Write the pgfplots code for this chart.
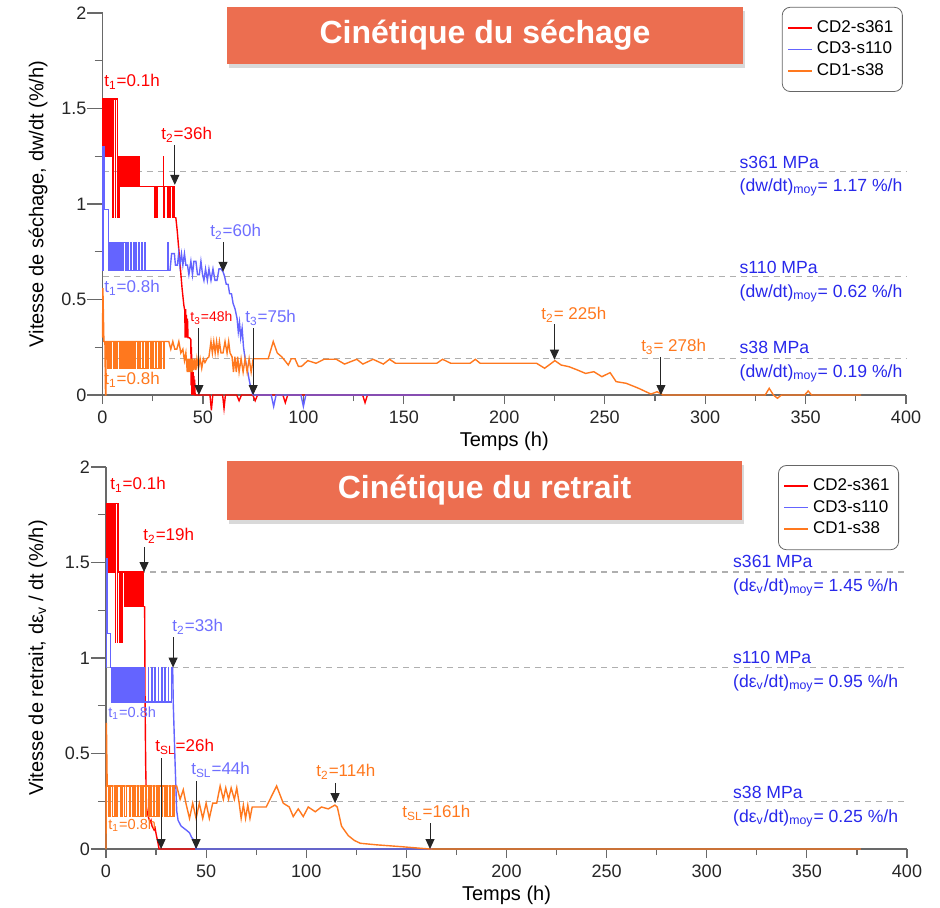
\documentclass[border=0pt]{standalone}
\usepackage{fontspec}
\setmainfont{Liberation Sans}
\usepackage{pgfplots}
\pgfplotsset{compat=1.18}
\usetikzlibrary{arrows.meta,shadows}
\definecolor{cred}{RGB}{255,0,0}
\definecolor{cblue}{RGB}{100,100,255}
\definecolor{corange}{RGB}{255,120,30}
\definecolor{tblue}{RGB}{40,40,235}
\definecolor{ablue}{RGB}{110,110,255}
\definecolor{titlefill}{RGB}{236,110,80}
\definecolor{axgray}{RGB}{105,105,105}
\definecolor{dashgray}{RGB}{175,175,175}
\tikzset{
  ser/.style={line width=0.7pt},
  dns/.style={line width=0.6pt},
  ann/.style={inner sep=0pt, anchor=west, font=\fontsize{8.5}{10}\selectfont},
  lab/.style={inner sep=0pt, anchor=west, text=tblue, font=\fontsize{8.8}{10}\selectfont},
  arr/.style={-{Triangle[length=5pt,width=4.5pt]}, line width=0.5pt, black!85},
  dsh/.style={dashgray, dash pattern=on 3pt off 2.5pt, line width=0.6pt},
}
\pgfplotsset{
  myax/.style={
    scale only axis, height=191pt,
    xmin=0, xmax=400, ymin=0, ymax=2,
    axis lines=left,
    axis line style={axgray, line width=0.6pt, -},
    tick align=outside,
    tick style={axgray, line width=0.6pt},
    xtick={0,50,100,150,200,250,300,350,400},
    ytick={0,0.5,1,1.5,2},
    minor x tick num=1, minor y tick num=1,
    major tick length=4.5pt, minor tick length=3pt,
    y tick style={/pgfplots/major tick length=7.5pt, /pgfplots/minor tick length=4pt},
    clip=false,
    tick label style={font=\fontsize{9}{10}\selectfont, text=black!85},
    /pgf/number format/assume math mode=true,
    label style={font=\fontsize{10}{12}\selectfont},
    xlabel={Temps (h)},
    xlabel style={at={(axis description cs:0.5,-0.12)}, anchor=center},
    legend cell align=left,
    legend image code/.code={\draw[##1, line width=0.8pt] (0pt,0pt) -- (12pt,0pt);},
    legend style={draw=black!60, rounded corners=4pt, fill=white,
      font=\fontsize{8.5}{10}\selectfont, row sep=-0.6pt, inner xsep=2.5pt, inner ysep=4.5pt},
  },
}
\begin{document}
\begin{tikzpicture}
\path[use as bounding box] (0,0) rectangle (470pt,453.5pt);

% ================= TOP: drying =================
\begin{axis}[myax, at={(51.25pt,256pt)}, anchor=south west, width=401.75pt,
  ylabel={Vitesse de séchage, dw/dt (\%/h)},
  ylabel style={at={(axis description cs:-0.0803,0.5)}, anchor=center},
  legend style={at={(0.996,1.016)}, anchor=north east}]
\draw[dsh] (0,1.17) -- (400,1.17);
\draw[dsh] (0,0.62) -- (400,0.62);
\draw[dsh] (0,0.19) -- (400,0.19);

\addplot[cred, dns, const plot, forget plot] coordinates {
(0,1.15) (0,1.55) (0.3,1.25) (0.6,1.55) (0.9,1.25) (1.2,1.55) (1.5,1.25) (1.8,1.55) (2.1,1.25) (2.4,1.55) (2.7,1.25) (3.0,1.55) (3.3,1.25) (3.6,1.55) (3.9,1.25) (4.2,1.55) (4.5,1.25) (4.8,1.55) (5.1,0.93) (5.3,1.55) (6.3,0.93) (6.5,1.55) (7.3,0.93) (7.5,1.25) (8.0,0.93) (8.3,1.25) (9.0,1.09) (9.4,1.25) (9.8,1.09) (10.2,1.25) (10.6,1.09) (11.0,1.25) (11.4,1.09) (11.8,1.25) (12.2,1.09) (12.6,1.25) (13.0,1.09) (13.4,1.25) (13.8,1.09) (14.2,1.25) (14.6,1.09) (15.0,1.25) (15.4,1.09) (15.8,1.25) (16.3,1.09) (16.8,1.25) (17.4,1.09) (18.0,1.25) (18.5,1.09) (26.0,0.93) (26.3,1.09) (27.0,0.93) (27.3,1.09) (30.3,1.25) (30.5,0.93) (30.7,1.09) (32.4,0.93) (32.6,1.09) (33.5,0.93) (33.7,1.09) (35.0,0.93) (35.2,1.09) (35.9,0.93) (36.5,0.93)};
\addplot[cred, ser] coordinates {
(36.5,0.93) (37.2,0.86) (38.0,0.76) (38.8,0.66) (39.6,0.56) (40.5,0.47) (41.0,0.44) (41.1,0.30) (41.4,0.45) (41.6,0.30) (41.8,0.42) (42.0,0.30) (42.3,0.40) (42.6,0.30) (43.3,0.30) (44.0,0.29) (44.1,0.05) (44.3,0.25) (44.5,0.0) (44.7,0.15) (44.9,0.0) (45.1,0.12) (45.3,0.0) (45.5,0.10) (45.7,0.0) (45.9,0.08) (46.1,0.0) (53.5,0) (54.2,-0.08) (54.9,0) (59.8,0) (60.5,-0.07) (61.2,0) (66.8,0) (68.0,-0.03) (69.2,0) (74.8,0) (76.0,-0.03) (77.2,0) (89.8,0) (91.0,-0.04) (92.2,0) (129.5,0) (130.7,-0.04) (131.9,0) (163,0)};
\addlegendentry{CD2-s361}

\addplot[cblue, dns, const plot, forget plot] coordinates {
(0.2,0.65) (0.2,1.30) (1.0,0.97) (2.8,0.65) (3.0,0.80) (3.6,0.65) (4.2,0.80) (4.8,0.65) (5.4,0.80) (6.0,0.65) (6.6,0.80) (7.2,0.65) (7.8,0.80) (8.5,0.65) (9.2,0.80) (9.9,0.65) (10.6,0.80) (11.4,0.65) (12.2,0.80) (13.0,0.65) (13.8,0.80) (14.6,0.65) (15.3,0.80) (15.9,0.65) (16.5,0.80) (16.7,0.65) (18.0,0.80) (18.2,0.65) (19.5,0.80) (19.7,0.65) (21.0,0.80) (21.2,0.65) (32.3,0.80) (32.8,0.65) (33.6,0.65)};
\addplot[cblue, ser] coordinates {
(33.6,0.65) (34.4,0.74) (35.8,0.74) (36.3,0.68) (37.3,0.68) (37.9,0.74) (38.5,0.68) (39.3,0.74) (40.0,0.68) (40.8,0.74) (41.5,0.68) (42.3,0.68) (43.0,0.63) (44.0,0.70) (44.8,0.63) (45.5,0.70) (46.5,0.70) (47.3,0.63) (48.2,0.63) (49.0,0.70) (49.8,0.63) (50.5,0.60) (51.3,0.66) (52.2,0.60) (53.0,0.66) (54.0,0.60) (55.0,0.66) (56.0,0.60) (57.0,0.60) (58.0,0.66) (59.0,0.66) (60.0,0.645) (60.8,0.62) (61.6,0.58) (62.5,0.58) (63.3,0.53) (64.2,0.53) (65.0,0.48) (66.0,0.45) (67.0,0.40) (67.6,0.33) (68.2,0.38) (68.8,0.30) (69.5,0.35) (70.2,0.25) (71.0,0.19) (72.0,0.14) (73.0,0.08) (74.0,0.03) (75.0,0.0) (84.0,0) (85.2,-0.06) (86.4,0) (98.8,0) (100.0,-0.06) (101.2,0) (163,0)};
\addlegendentry{CD3-s110}

\addplot[corange, dns, const plot, forget plot] coordinates {
(1.8,0.28) (2.4,0.14) (3.0,0.28) (3.6,0.14) (4.2,0.28) (5.6,0.14) (6.2,0.28) (6.8,0.14) (7.4,0.28) (8.6,0.14) (9.2,0.28) (9.8,0.14) (10.4,0.28) (11.0,0.14) (11.6,0.28) (12.2,0.14) (12.8,0.28) (13.4,0.14) (14.0,0.28) (14.6,0.14) (15.2,0.28) (15.8,0.14) (16.6,0.28) (17.4,0.14) (18.2,0.28) (19.0,0.14) (19.8,0.28) (20.6,0.14) (21.4,0.28) (22.2,0.14) (23.0,0.28) (23.8,0.14) (24.6,0.28) (25.4,0.14) (26.2,0.28) (27.0,0.14) (27.8,0.28) (28.6,0.14) (29.4,0.28) (30.2,0.14) (31.0,0.28) (31.8,0.28)};
\addplot[corange, ser] coordinates {
(0,0.30) (0.2,0.56) (0.7,0.28) (1.2,0.28) (1.5,0.0) (1.7,0.0) (1.8,0.28) (31.8,0.28) (33.0,0.28) (34.0,0.24) (35.0,0.28) (36.0,0.24) (37.0,0.24) (38.0,0.28) (39.0,0.22) (40.0,0.24) (40.8,0.18) (41.5,0.22) (42.2,0.12) (42.5,0.19) (42.8,0.12) (43.1,0.19) (43.4,0.12) (43.7,0.19) (44.0,0.12) (44.3,0.19) (44.6,0.12) (45.0,0.19) (45.5,0.13) (46.0,0.19) (46.5,0.13) (47.0,0.19) (47.8,0.14) (48.6,0.19) (49.4,0.14) (50.2,0.19) (51.0,0.17) (52.0,0.19) (53.0,0.20) (54.0,0.28) (54.7,0.22) (55.4,0.28) (56.1,0.22) (56.8,0.28) (57.5,0.22) (58.2,0.28) (59.0,0.22) (60.0,0.22) (61.0,0.28) (62.0,0.22) (62.8,0.28) (63.5,0.22) (64.5,0.20) (65.2,0.12) (65.9,0.20) (66.6,0.12) (67.3,0.20) (68.0,0.12) (69.0,0.19) (70.0,0.12) (71.0,0.19) (72.0,0.12) (73.0,0.19) (74.0,0.12) (75.0,0.19) (76.5,0.19) (82.5,0.19) (85.0,0.28) (87.0,0.22) (89.2,0.20) (90.8,0.18) (92.5,0.157) (94.0,0.19) (95.8,0.19) (97.5,0.15) (99.1,0.15) (102.2,0.18) (106.3,0.166) (110.3,0.187) (116.4,0.187) (120.5,0.162) (126.6,0.187) (129.6,0.162) (134.7,0.187) (139.8,0.162) (142.9,0.187) (145.9,0.166) (166.4,0.166) (169.3,0.187) (173.4,0.166) (183.0,0.166) (185.6,0.187) (188.0,0.166) (216.1,0.166) (220.1,0.14) (225.2,0.18) (228.3,0.157) (232.3,0.148) (236.4,0.131) (240.5,0.113) (244.6,0.122) (248.6,0.096) (252.7,0.117) (255.7,0.07) (260.8,0.061) (266.9,0.035) (273.0,0.005) (276.1,0.017) (279.1,0.0) (329.9,0) (331.9,0.035) (334.0,0.0) (336.0,-0.017) (338.0,0) (349.5,0) (351.3,0.021) (353.0,0) (377.7,0)};
\addlegendentry{CD1-s38}

\node[lab] at (317,1.22) {s361 MPa};
\node[lab] at (317,1.089) {(dw/dt)\textsubscript{moy}= 1.17 \%/h};
\node[lab] at (317,0.670) {s110 MPa};
\node[lab] at (317,0.534) {(dw/dt)\textsubscript{moy}= 0.62 \%/h};
\node[lab] at (317,0.251) {s38 MPa};
\node[lab] at (317,0.115) {(dw/dt)\textsubscript{moy}= 0.19 \%/h};
\node[ann, text=cred] at (0.75,1.639) {t\textsubscript{1}=0.1h};
\node[ann, text=cred] at (29.1,1.361) {t\textsubscript{2}=36h};
\draw[arr] (36,1.31) -- (36,1.10);
\node[ann, text=ablue] at (53.5,0.853) {t\textsubscript{2}=60h};
\draw[arr] (60,0.80) -- (60,0.645);
\node[ann, text=ablue] at (0.75,0.56) {t\textsubscript{1}=0.8h};
\node[ann, text=cred, font=\fontsize{7}{8}\selectfont] at (43.6,0.403) {t\textsubscript{3}=48h};
\draw[arr] (48,0.35) -- (48,0);
\node[ann, text=ablue] at (70.9,0.403) {t\textsubscript{3}=75h};
\draw[arr] (75,0.35) -- (75,0);
\node[ann, text=corange] at (0.75,0.079) {t\textsubscript{1}=0.8h};
\node[ann, text=corange] at (218.3,0.419) {t\textsubscript{2}= 225h};
\draw[arr] (225,0.37) -- (225,0.185);
\node[ann, text=corange] at (268,0.251) {t\textsubscript{3}= 278h};
\draw[arr] (278,0.20) -- (278,0);
\end{axis}

% ================= BOTTOM: shrinkage =================
\begin{axis}[myax, at={(53pt,29pt)}, anchor=south west, width=400.5pt,
  ylabel={Vitesse de retrait, dε\textsubscript{v} / dt (\%/h)},
  ylabel style={at={(axis description cs:-0.0849,0.5)}, anchor=center},
  legend style={at={(0.99,1.005)}, anchor=north east}]
\draw[dsh] (0,1.45) -- (400,1.45);
\draw[dsh] (0,0.95) -- (400,0.95);
\draw[dsh] (0,0.25) -- (400,0.25);

\addplot[cred, dns, const plot, forget plot] coordinates {
(0.3,1.45) (0.3,1.81) (0.6,1.45) (0.9,1.81) (1.2,1.45) (1.5,1.81) (1.8,1.45) (2.1,1.81) (2.4,1.45) (2.7,1.81) (3.0,1.45) (3.3,1.81) (3.6,1.45) (3.9,1.81) (4.2,1.45) (4.5,1.81) (4.7,1.08) (4.9,1.81) (5.6,1.08) (5.8,1.81) (6.3,1.45) (7.0,1.08) (7.2,1.45) (8.0,1.08) (8.2,1.45) (9.3,1.27) (9.65,1.45) (10.0,1.27) (10.35,1.45) (10.7,1.27) (11.05,1.45) (11.4,1.27) (11.75,1.45) (12.1,1.27) (12.45,1.45) (12.8,1.27) (13.15,1.45) (13.5,1.27) (13.85,1.45) (14.2,1.27) (14.55,1.45) (14.9,1.27) (15.25,1.45) (15.6,1.27) (15.95,1.45) (16.3,1.27) (16.65,1.45) (17.0,1.27) (17.35,1.45) (17.7,1.27) (18.05,1.45) (18.4,1.27) (18.7,1.45) (18.9,1.27) (19.3,1.27)};
\addplot[cred, ser] coordinates {
(19.3,1.27) (19.5,0.80) (19.8,0.45) (20.2,0.22) (20.6,0.19) (21.1,0.17) (22.0,0.14) (22.5,0.15) (23.0,0.12) (24.0,0.10) (24.5,0.11) (25.0,0.08) (25.6,0.05) (26.0,0.03) (26.5,0.0) (44.5,0.0)};
\addlegendentry{CD2-s361}

\addplot[cblue, dns, const plot, forget plot] coordinates {
(0.2,0.95) (0.2,1.52) (0.6,1.13) (2.2,0.95) (2.6,0.77) (3.2,0.95) (3.8,0.77) (4.4,0.95) (5.0,0.77) (5.6,0.95) (6.2,0.77) (6.8,0.95) (7.4,0.77) (8.0,0.95) (8.6,0.77) (9.2,0.95) (9.8,0.77) (10.4,0.95) (11.0,0.77) (11.6,0.95) (12.2,0.77) (12.8,0.95) (13.4,0.77) (14.0,0.95) (14.6,0.77) (15.2,0.95) (15.8,0.77) (16.4,0.95) (17.0,0.77) (17.6,0.95) (18.1,0.77) (19.0,0.95) (19.2,0.77) (21.1,0.95) (21.3,0.77) (22.8,0.95) (23.0,0.77) (24.4,0.95) (24.6,0.77) (26.1,0.95) (26.3,0.77) (27.8,0.95) (28.0,0.77) (29.5,0.95) (29.7,0.77) (31.1,0.95) (31.3,0.77) (32.8,0.95) (33.3,0.95)};
\addplot[cblue, ser] coordinates {
(33.3,0.95) (33.6,0.76) (34.5,0.45) (35.3,0.20) (36.0,0.15) (37.5,0.12) (40.0,0.10) (41.7,0.085) (42.8,0.06) (44.4,0.04) (45.0,0.0) (163,0)};
\addlegendentry{CD3-s110}

\addplot[corange, dns, const plot, forget plot] coordinates {
(0.6,0.33) (1.2,0.17) (2.0,0.33) (3.4,0.17) (4.2,0.33) (5.0,0.17) (5.8,0.33) (7.2,0.17) (8.0,0.33) (9.4,0.17) (10.2,0.33) (11.6,0.17) (12.4,0.33) (13.2,0.17) (14.0,0.33) (14.8,0.17) (15.6,0.33) (16.4,0.17) (17.2,0.33) (18.0,0.17) (18.8,0.33) (19.6,0.17) (20.4,0.33) (21.2,0.17) (22.0,0.33) (22.8,0.17) (23.6,0.33) (24.4,0.17) (25.2,0.33) (26.0,0.17) (26.8,0.33) (27.6,0.17) (28.4,0.33) (29.2,0.17) (30.0,0.33) (30.8,0.17) (31.6,0.33) (32.4,0.17) (33.2,0.33) (33.8,0.17) (34.2,0.33) (34.5,0.33)};
\addplot[corange, ser] coordinates {
(0,0) (0.2,0.66) (0.6,0.33) (34.5,0.33) (35.3,0.33) (37.0,0.26) (38.6,0.31) (39.9,0.24) (41.7,0.16) (43.3,0.24) (45.0,0.16) (46.6,0.24) (48.3,0.16) (50.0,0.24) (51.6,0.16) (53.3,0.24) (55.3,0.24) (57.0,0.33) (58.6,0.26) (59.8,0.32) (61.2,0.26) (62.5,0.32) (64.1,0.26) (65.3,0.32) (66.5,0.24) (67.5,0.16) (68.6,0.23) (69.7,0.16) (70.8,0.23) (71.9,0.16) (73.0,0.22) (80.0,0.22) (85.2,0.33) (88.5,0.24) (91.5,0.22) (93.5,0.17) (96.0,0.21) (98.5,0.17) (101.0,0.22) (104.5,0.195) (107.6,0.22) (111.0,0.21) (114.3,0.23) (115.5,0.22) (117.6,0.12) (121.0,0.07) (124.0,0.045) (127.0,0.03) (135.0,0.022) (147.8,0.012) (158.0,0.003) (162.0,0) (377.0,0)};
\addlegendentry{CD1-s38}

\node[lab] at (313,1.503) {s361 MPa};
\node[lab] at (313,1.372) {(dε\textsubscript{v}/dt)\textsubscript{moy}= 1.45 \%/h};
\node[lab] at (313,1.005) {s110 MPa};
\node[lab] at (313,0.869) {(dε\textsubscript{v}/dt)\textsubscript{moy}= 0.95 \%/h};
\node[lab] at (313,0.298) {s38 MPa};
\node[lab] at (313,0.162) {(dε\textsubscript{v}/dt)\textsubscript{moy}= 0.25 \%/h};
\node[ann, text=cred] at (2,1.906) {t\textsubscript{1}=0.1h};
\node[ann, text=cred] at (18.5,1.639) {t\textsubscript{2}=19h};
\draw[arr] (19,1.58) -- (19,1.45);
\node[ann, text=ablue] at (33,1.162) {t\textsubscript{2}=33h};
\draw[arr] (33.5,1.11) -- (33.5,0.95);
\node[ann, text=ablue, font=\fontsize{7.3}{8}\selectfont] at (1,0.712) {t\textsubscript{1}=0.8h};
\node[ann, text=cred] at (24.5,0.534) {t\textsubscript{SL}=26h};
\draw[arr] (27.5,0.476) -- (27.5,0);
\node[ann, text=ablue] at (42.4,0.414) {t\textsubscript{SL}=44h};
\draw[arr] (45,0.356) -- (45,0);
\node[ann, text=corange, font=\fontsize{7.3}{8}\selectfont] at (1,0.126) {t\textsubscript{1}=0.8h};
\node[ann, text=corange] at (104.9,0.403) {t\textsubscript{2}=114h};
\draw[arr] (114.4,0.346) -- (114.4,0.24);
\node[ann, text=corange] at (147.8,0.188) {t\textsubscript{SL}=161h};
\draw[arr] (161.8,0.136) -- (161.8,0);
\end{axis}

\node[fill=titlefill, minimum width=258pt, minimum height=28.5pt, inner sep=0pt,
  text=white, font=\bfseries\fontsize{16}{19}\selectfont,
  drop shadow={opacity=0.3, shadow xshift=0.8pt, shadow yshift=-2pt}]
  at (242.5pt,435.75pt) {Cinétique du séchage};
\node[fill=titlefill, minimum width=257.5pt, minimum height=29.5pt, inner sep=0pt,
  text=white, font=\bfseries\fontsize{16}{19}\selectfont,
  drop shadow={opacity=0.3, shadow xshift=0.8pt, shadow yshift=-2pt}]
  at (242.25pt,208.25pt) {Cinétique du retrait};
\end{tikzpicture}
\end{document}
